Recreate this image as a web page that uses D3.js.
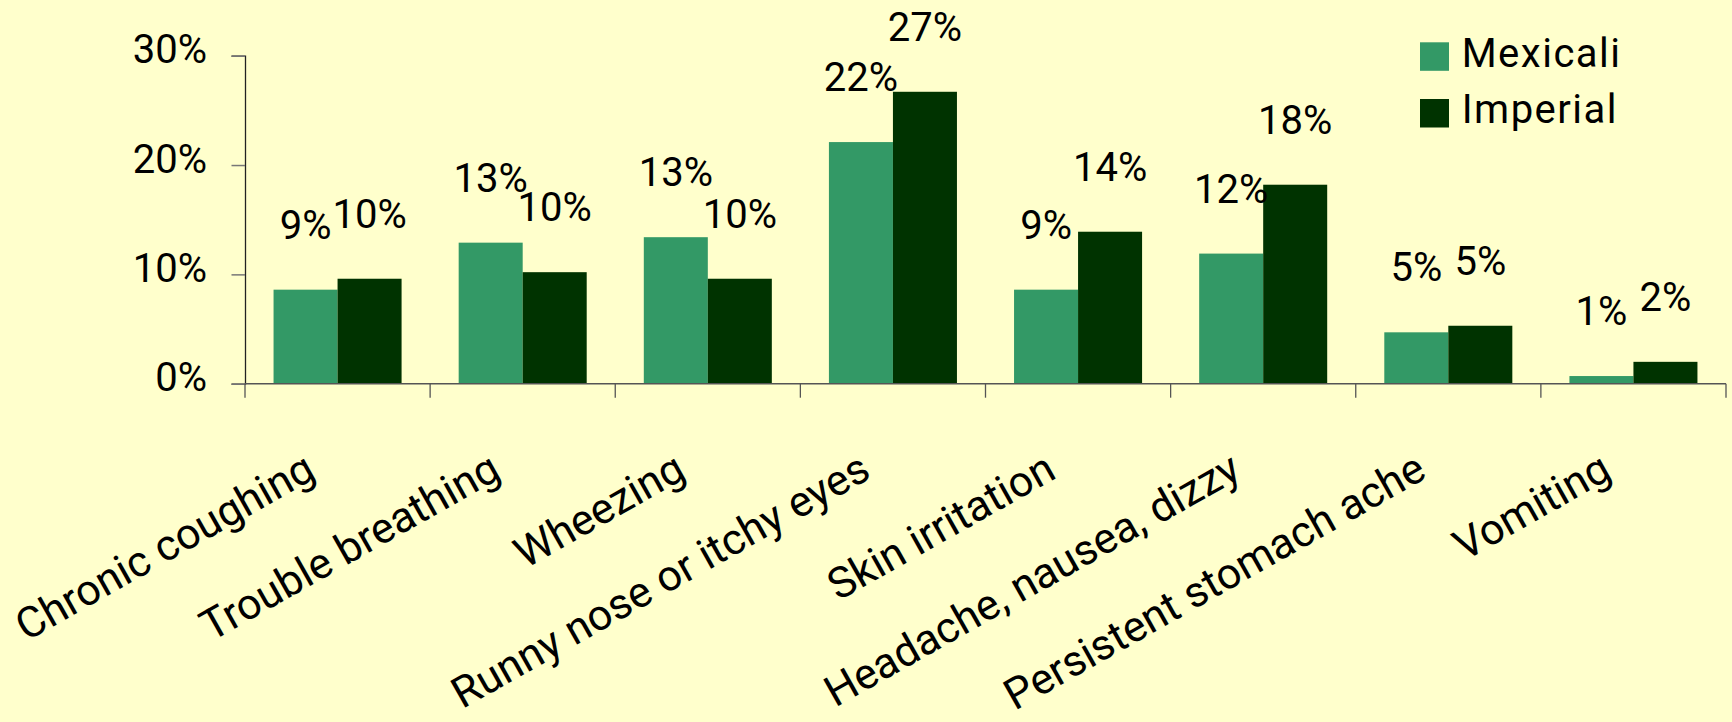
<!DOCTYPE html>
<html>
<head>
<meta charset="utf-8">
<script src="https://cdn.jsdelivr.net/npm/d3@7"></script>
<style>
  html, body { margin: 0; padding: 0; background: #FFFFCC; }
  svg { display: block; }
  text { font-family: "Century Gothic", Roboto, "Noto Sans", sans-serif; fill: #000; }
</style>
</head>
<body>
<div id="chart"></div>
<script>
// chart data
var categories = ["Chronic coughing", "Trouble breathing", "Wheezing", "Runny nose or itchy eyes",
                  "Skin irritation", "Headache, nausea, dizzy", "Persistent stomach ache", "Vomiting"];
var seriesNames = ["Mexicali", "Imperial"];
var mexicali = [0.086, 0.129, 0.134, 0.221, 0.086, 0.119, 0.047, 0.007];
var imperial = [0.096, 0.102, 0.096, 0.267, 0.139, 0.182, 0.053, 0.020];
var yTicks = [0, 0.1, 0.2, 0.3];
var colors = {"Mexicali": "#339966", "Imperial": "#003300"};

var W = 1732, H = 722;
var svg = d3.select('#chart').append('svg')
  .attr('width', W).attr('height', H);

svg.append('rect').attr('width', W).attr('height', H).attr('fill', '#FFFFCC');

var x0 = d3.scaleBand().domain(categories).range([245, 1726]).paddingInner(0).paddingOuter(0);
var x1 = d3.scaleBand().domain(seriesNames).range([0, x0.bandwidth()]).paddingInner(0).paddingOuter(0.446);
var y = d3.scaleLinear().domain([0, 0.3]).range([383.7, 55.7]);

var rows = categories.map(function(c, i){
  return {cat: c, values: [{key: "Mexicali", v: mexicali[i]}, {key: "Imperial", v: imperial[i]}]};
});

// bars
var groups = svg.selectAll('.group').data(rows).enter().append('g')
  .attr('class', 'group')
  .attr('transform', function(d){ return 'translate(' + x0(d.cat) + ',0)'; });

groups.selectAll('rect').data(function(d){ return d.values; }).enter().append('rect')
  .attr('x', function(d){ return x1(d.key); })
  .attr('y', function(d){ return y(d.v); })
  .attr('width', x1.bandwidth())
  .attr('height', function(d){ return y(0) - y(d.v); })
  .attr('fill', function(d){ return colors[d.key]; });

// value labels
var fmt = d3.format('.0%');
groups.selectAll('.label').data(function(d){ return d.values; }).enter().append('text')
  .attr('class', 'label')
  .attr('x', function(d){ return x1(d.key) + x1.bandwidth() / 2; })
  .attr('y', function(d){ return y(d.v) - 51; })
  .attr('text-anchor', 'middle')
  .style('font-size', '40px')
  .text(function(d){ return fmt(d.v); });

// y axis
var yAxis = d3.axisLeft(y).tickValues(yTicks).tickFormat(fmt).tickSize(13.5).tickPadding(24.5);
var yg = svg.append('g').attr('transform', 'translate(245,0)').call(yAxis);
yg.select('.domain').attr('stroke', '#222').attr('stroke-width', 1.3);
yg.selectAll('.tick line').attr('stroke', '#777').attr('stroke-width', 1.5);
yg.selectAll('.tick text').style('font-size', '40px').attr('dy', '7').attr('fill', '#000')
  .style('font-family', '"Century Gothic", Roboto, "Noto Sans", sans-serif');

// x axis line and boundary ticks
var bounds = categories.map(function(c){ return x0(c); }).concat([x0.range()[1]]);
svg.append('line')
  .attr('x1', x0.range()[0]).attr('x2', x0.range()[1])
  .attr('y1', y(0)).attr('y2', y(0))
  .attr('stroke', '#555').attr('stroke-width', 1.5);
svg.selectAll('.xtick').data(bounds).enter().append('line')
  .attr('class', 'xtick')
  .attr('x1', function(d){ return d; }).attr('x2', function(d){ return d; })
  .attr('y1', y(0)).attr('y2', y(0) + 14)
  .attr('stroke', '#555').attr('stroke-width', 1.3);

// category labels, rotated
svg.selectAll('.cat').data(categories).enter().append('text')
  .attr('class', 'cat')
  .attr('text-anchor', 'end')
  .style('font-size', '43px')
  .attr('transform', function(d){
    return 'translate(' + (x0(d) + x0.bandwidth() / 2 - 20) + ',477) rotate(-29.5)';
  })
  .text(function(d){ return d; });

// legend
var legend = svg.selectAll('.legend').data(seriesNames).enter().append('g')
  .attr('class', 'legend')
  .attr('transform', function(d, i){ return 'translate(1420,' + (42.3 + i * 56.7) + ')'; });
legend.append('rect').attr('width', 29).attr('height', 28.5)
  .attr('fill', function(d){ return colors[d]; });
legend.append('text').attr('x', 41.7).attr('y', 24.4)
  .style('font-size', '40px').style('letter-spacing', '1.5px')
  .text(function(d){ return d; });
</script>
</body>
</html>
